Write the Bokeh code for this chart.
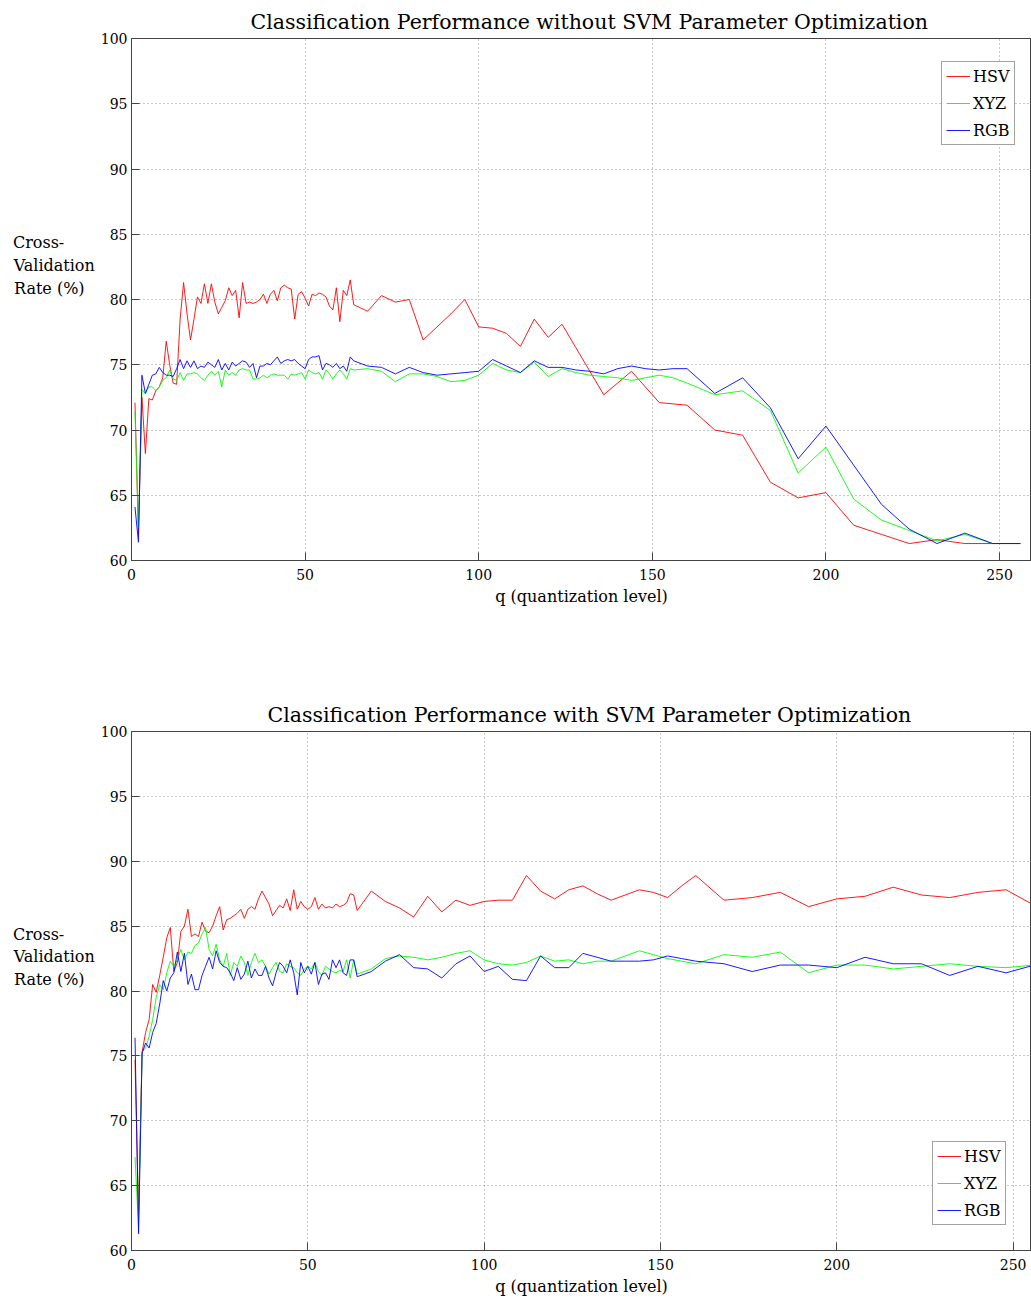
from bokeh.plotting import figure
from bokeh.layouts import column
from bokeh.models import Range1d, FixedTicker, Legend, LegendItem
from bokeh.embed import file_html
from bokeh.resources import INLINE

# quantization levels
q_levels = list(range(1, 65)) + list(range(68, 161, 4)) + list(range(168, 257, 8))

# ---------- Top: without SVM parameter optimization ----------
hsv_top = [72.1, 62.0, 72.5, 68.2, 72.4, 72.3, 73.0, 73.3, 74.0, 76.8,
           75.0, 73.6, 73.5, 78.5, 81.3, 78.9, 76.9, 78.5, 80.2, 79.7,
           81.2, 79.7, 81.2, 79.8, 78.9, 79.4, 79.9, 80.9, 80.3, 80.7,
           78.6, 81.3, 79.7, 79.8, 79.7, 79.8, 80.0, 80.4, 79.7, 80.4,
           80.7, 79.9, 80.9, 81.1, 80.9, 80.8, 78.5, 80.4, 80.6, 80.1,
           79.5, 80.4, 80.3, 80.5, 80.4, 80.2, 79.5, 79.2, 80.9, 78.3,
           80.7, 80.3, 81.5, 79.6,
           79.1, 80.3, 79.8, 80.0, 76.9, 77.9, 78.9, 80.0, 77.9, 77.8,
           77.4, 76.4, 78.5, 77.1, 78.1, 76.3, 74.5, 72.7, 73.6, 74.5,
           73.3, 72.1, 72.0, 71.9,
           70.0, 69.6, 66.0, 64.8, 65.2, 62.7, 62.0, 61.3, 61.6, 61.3, 61.3, 61.3]
xyz_top = [71.4, 62.5, 73.1, 72.8, 73.3, 73.3, 73.0, 73.3, 73.8, 74.0,
           74.6, 73.9, 73.8, 74.4, 73.8, 74.3, 74.3, 74.4, 74.3, 74.0,
           73.8, 74.2, 74.5, 74.2, 74.5, 73.3, 74.6, 74.2, 74.4, 74.2,
           74.6, 74.7, 74.6, 74.6, 73.9, 73.9, 74.0, 74.2, 74.0, 74.2,
           74.3, 74.2, 74.2, 74.2, 73.9, 74.3, 74.2, 74.3, 74.4, 73.9,
           74.6, 74.4, 74.3, 74.4, 73.9, 74.6, 74.3, 73.9, 74.3, 74.6,
           74.3, 73.9, 74.7, 74.6,
           74.7, 74.5, 73.7, 74.3, 74.3, 74.1, 73.7, 73.8, 74.2, 75.1,
           74.6, 74.4, 75.2, 74.1, 74.7, 74.4, 74.2, 74.1, 74.0, 73.8,
           74.0, 74.2, 74.0, 73.6,
           72.7, 73.0, 71.5, 66.7, 68.7, 64.7, 63.1, 62.3, 61.5, 62.0, 61.3, 61.3]
rgb_top = [64.1, 61.4, 74.2, 72.8, 73.5, 74.2, 74.3, 74.8, 74.4, 74.2,
           74.2, 74.1, 74.7, 75.4, 74.7, 75.3, 74.8, 75.3, 74.7, 74.9,
           74.8, 75.2, 75.0, 74.8, 75.4, 74.6, 75.1, 74.6, 75.2, 74.9,
           75.1, 75.3, 75.2, 74.8, 75.1, 74.0, 74.9, 74.9, 75.1, 75.0,
           75.3, 75.6, 75.1, 75.3, 75.4, 75.3, 75.4, 75.1, 74.9, 74.7,
           75.4, 75.6, 75.6, 75.7, 74.6, 75.1, 75.0, 74.8, 75.1, 74.7,
           74.9, 74.5, 75.6, 75.3,
           74.9, 74.8, 74.3, 74.8, 74.4, 74.2, 74.3, 74.4, 74.5, 75.4,
           74.9, 74.4, 75.3, 74.8, 74.8, 74.6, 74.5, 74.3, 74.7, 74.9,
           74.7, 74.6, 74.7, 74.7,
           72.8, 74.0, 71.7, 67.8, 70.3, 67.3, 64.3, 62.4, 61.3, 62.1, 61.3, 61.3]

# ---------- Bottom: with SVM parameter optimization ----------
hsv_bot = [74.7, 62.8, 75.3, 76.8, 77.8, 80.5, 79.9, 81.2, 82.6, 84.1,
           84.9, 81.5, 82.2, 84.6, 85.0, 86.3, 84.2, 84.4, 84.2, 85.3,
           84.6, 84.5, 85.0, 85.8, 86.5, 84.7, 85.5, 85.6, 85.8, 86.0,
           86.3, 85.6, 86.3, 86.5, 86.3, 87.1, 87.7, 87.2, 86.7, 85.8,
           86.2, 86.6, 86.4, 87.1, 86.2, 87.8, 86.3, 86.9, 86.5, 86.3,
           86.5, 87.2, 86.3, 86.7, 86.4, 86.5, 86.4, 86.7, 86.5, 86.6,
           86.8, 87.5, 87.4, 86.2,
           87.7, 86.9, 86.4, 85.7, 87.3, 86.1, 87.0, 86.6, 86.9, 87.0,
           87.0, 88.9, 87.7, 87.1, 87.8, 88.1, 87.5, 87.0, 87.4, 87.8,
           87.6, 87.2, 88.1, 88.9,
           87.0, 87.2, 87.6, 86.5, 87.1, 87.3, 88.0, 87.4, 87.2, 87.6, 87.8, 86.6]
xyz_bot = [67.2, 61.8, 75.3, 75.6, 76.5, 77.8, 79.5, 80.5, 80.1, 81.4,
           82.3, 81.9, 82.4, 83.2, 82.4, 83.0, 82.9, 83.5, 83.7, 84.4,
           84.9, 83.2, 82.7, 83.6, 82.4, 81.9, 82.9, 81.2, 82.2, 81.9,
           82.7, 82.2, 81.2, 82.2, 82.9, 82.2, 82.4, 81.9, 81.3, 81.8,
           82.2, 81.5, 81.4, 82.1, 81.9, 81.8, 81.4, 81.2, 81.7, 81.9,
           81.7, 82.2, 81.5, 81.2, 81.9, 81.7, 81.5, 81.4, 81.6, 81.5,
           82.4, 81.0, 82.4, 81.3,
           81.7, 82.5, 82.7, 82.6, 82.4, 82.6, 82.9, 83.1, 82.4, 82.1,
           82.0, 82.2, 82.7, 82.3, 82.4, 82.1, 82.3, 82.3, 82.7, 83.1,
           82.8, 82.5, 82.3, 82.1,
           82.8, 82.6, 83.0, 81.4, 82.0, 82.0, 81.7, 81.9, 82.1, 81.9, 81.8, 82.0]
rgb_bot = [76.4, 61.3, 75.2, 76.0, 75.6, 76.8, 77.5, 79.0, 80.8, 80.0,
           81.0, 81.4, 83.0, 81.5, 82.9, 80.5, 81.3, 80.1, 80.1, 81.2,
           81.9, 82.6, 81.7, 83.1, 82.2, 81.9, 81.8, 81.4, 80.8, 81.8,
           80.9, 81.3, 82.3, 81.0, 81.7, 81.2, 81.2, 81.9, 81.0, 80.4,
           81.4, 82.2, 81.9, 81.4, 82.4, 81.4, 79.7, 82.2, 81.4, 81.9,
           81.3, 82.2, 80.5, 81.3, 81.4, 80.9, 82.4, 81.8, 82.4, 81.4,
           81.2, 82.4, 82.4, 81.1,
           81.5, 82.3, 82.8, 81.8, 81.7, 81.0, 82.1, 82.7, 81.5, 81.9,
           80.9, 80.8, 82.7, 81.8, 81.8, 82.9, 82.6, 82.3, 82.3, 82.3,
           82.4, 82.7, 82.5, 82.3,
           82.1, 81.5, 82.0, 82.0, 81.8, 82.6, 82.1, 82.1, 81.2, 81.9, 81.4, 82.0]

series_names = ["HSV", "XYZ", "RGB"]
series_colors = ["#ff0000", "#00ff00", "#0000ff"]
x_ticks = [0, 50, 100, 150, 200, 250]
y_ticks = [60, 65, 70, 75, 80, 85, 90, 95, 100]
y_label_lines = ["Cross-", "Validation", "Rate (%)"]

FONT = "DejaVu Serif"
NBSP = "\u00a0"


def build_y_label():
    # lines visually left-aligned (padded with no-break spaces), raised by empty lines
    pads = [6, 0, 2]
    lines = [t + NBSP * n for t, n in zip(y_label_lines, pads)]
    return "\n".join(lines + ["", "", ""])


def make_panel(title, data, x_end, legend_loc, height, border_bottom, title_offset):
    p = figure(width=1031, height=height, output_backend="svg", toolbar_location=None,
               x_range=Range1d(0, x_end), y_range=Range1d(60, 100),
               min_border_left=131, min_border_right=0, min_border_top=38,
               min_border_bottom=border_bottom)
    p.title.text = title
    p.title.align = "left"
    p.title.offset = title_offset
    p.title.text_font = FONT
    p.title.text_font_size = "20.5px"
    p.title.text_font_style = "normal"
    p.title.text_color = "#000000"

    p.outline_line_color = "#444444"
    p.outline_line_width = 1
    p.background_fill_color = "white"
    p.border_fill_color = "white"

    for ax in (p.xaxis[0], p.yaxis[0]):
        ax.major_label_text_font = FONT
        ax.major_label_text_font_size = "14px"
        ax.major_label_text_color = "#000000"
        ax.axis_line_color = "#444444"
        ax.major_tick_line_color = "#444444"
        ax.major_tick_in = 8
        ax.major_tick_out = 0
        ax.minor_tick_line_color = None
        ax.axis_label_text_font = FONT
        ax.axis_label_text_font_size = "16px"
        ax.axis_label_text_font_style = "normal"
        ax.axis_label_text_color = "#000000"
    p.xaxis[0].ticker = FixedTicker(ticks=x_ticks)
    p.yaxis[0].ticker = FixedTicker(ticks=y_ticks)
    p.xaxis[0].axis_label = "q (quantization level)"
    p.xaxis[0].axis_label_standoff = 4
    p.xaxis[0].major_label_standoff = 8
    p.yaxis[0].major_label_standoff = 4
    p.yaxis[0].axis_label = build_y_label()
    p.yaxis[0].axis_label_orientation = "horizontal"
    p.yaxis[0].axis_label_standoff = 3
    p.yaxis[0].axis_label_text_line_height = 1.2

    for g in (p.xgrid[0], p.ygrid[0]):
        g.grid_line_color = "#8c8c8c"
        g.grid_line_dash = "1 3"
        g.grid_line_width = 1

    items = []
    for name, col, ys in zip(series_names, series_colors, data):
        r = p.line(q_levels, ys, line_color=col, line_width=0.9)
        items.append(LegendItem(label=name, renderers=[r]))

    leg = Legend(items=items, location=legend_loc)
    leg.label_text_font = FONT
    leg.label_text_font_size = "16px"
    leg.label_text_color = "#000000"
    leg.glyph_width = 24
    leg.glyph_height = 20
    leg.label_height = 20
    leg.label_standoff = 3
    leg.spacing = 7
    leg.padding = 4
    leg.margin = 0
    leg.border_line_color = "#444444"
    leg.border_line_width = 1
    leg.background_fill_color = "white"
    leg.background_fill_alpha = 1
    p.add_layout(leg)
    return p


p1 = make_panel("Classification Performance without SVM Parameter Optimization",
                [hsv_top, xyz_top, rgb_top], 259.2, (810, 415), 693, 133, 119)
p2 = make_panel("Classification Performance with SVM Parameter Optimization",
                [hsv_bot, xyz_bot, rgb_bot], 255.2, (801, 25), 605, 45, 136)

layout = column(p1, p2, spacing=0)
open("out.html", "w").write(file_html(layout, INLINE))
